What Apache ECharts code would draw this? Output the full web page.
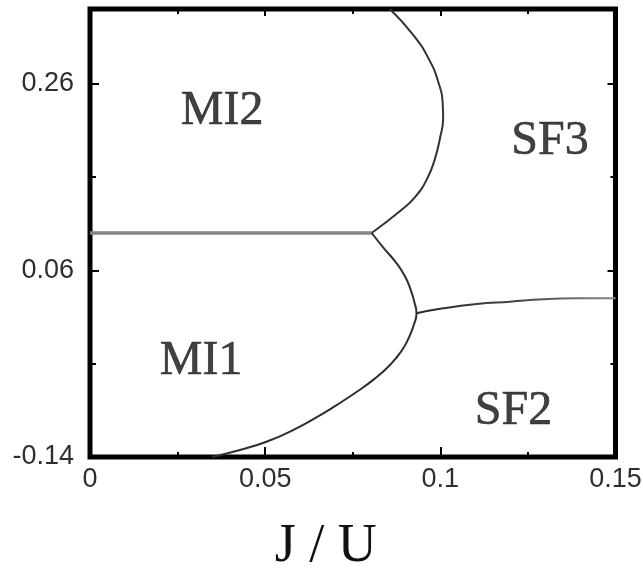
<!DOCTYPE html>
<html>
<head>
<meta charset="utf-8">
<script src="https://cdn.jsdelivr.net/npm/echarts@6/dist/echarts.min.js"></script>
<style>
  html, body { margin: 0; padding: 0; background: #fff; }
  #chart { width: 643px; height: 569px; }
</style>
</head>
<body>
<div id="chart"></div>
<script>
// Phase diagram: boundaries between Mott-insulator (MI) and superfluid (SF) phases vs J/U

// axis ranges and ticks
const xMin = 0, xMax = 0.15, xInterval = 0.05;
const yMin = -0.14, yMax = 0.34;
const yMajorTicks = [-0.14, 0.06, 0.26];
const yMinorTicks = [-0.04, 0.16];

// MI1 / MI2 boundary (flat line)
const mi1mi2X = [0, 0.0804];
const mi1mi2Y = [0.10, 0.10];

// MI2 / SF3 boundary (from the top edge down to the triple point)
const mi2sf3X = [0.0856, 0.0923, 0.0966, 0.0994, 0.1007, 0.1008, 0.0999, 0.0985, 0.0963, 0.0929, 0.0887, 0.0804];
const mi2sf3Y = [0.34, 0.3121, 0.2872, 0.2621, 0.2371, 0.2229, 0.2015, 0.18, 0.1586, 0.1390, 0.1240, 0.10];

// MI1 / SF boundary (from the triple point down to the bottom edge)
const mi1sfX = [0.0804, 0.0839, 0.0873, 0.0899, 0.0916, 0.0926, 0.0932, 0.0924, 0.0913, 0.0896, 0.0873, 0.0847, 0.0813, 0.0770, 0.0722, 0.0666, 0.0571, 0.0504, 0.0428, 0.0348];
const mi1sfY = [0.10, 0.0836, 0.0686, 0.0536, 0.0386, 0.0257, 0.014, 0.0011, -0.0096, -0.0225, -0.0343, -0.0450, -0.0560, -0.0680, -0.0800, -0.0932, -0.1129, -0.1236, -0.1325, -0.14];

// SF2 / SF3 boundary
const sf2sf3X = [0.0932, 0.1008, 0.1104, 0.1199, 0.1294, 0.1389, 0.15];
const sf2sf3Y = [0.014, 0.0193, 0.0239, 0.0264, 0.029, 0.030, 0.030];

// phase labels
const phaseNames = ['MI2', 'SF3', 'MI1', 'SF2'];
const phaseX = [0.0377, 0.1313, 0.0317, 0.1209];
const phaseY = [0.2307, 0.1986, -0.0379, -0.0907];

const pairs = (xs, ys) => xs.map((x, i) => [x, ys[i]]);

const tickFont = { fontFamily: '"Liberation Sans", Arial, sans-serif', fontSize: 27, color: '#2e2e2e' };
const serif = '"Liberation Serif", "Times New Roman", serif';
const tickLine = { color: '#000', width: 2 };

function xAxisDef(position, majorLen, showLabel) {
  return {
    type: 'value', position: position, min: xMin, max: xMax, interval: xInterval,
    axisLine: { show: false, onZero: false },
    splitLine: { show: false },
    axisTick: { show: true, inside: true, length: majorLen, lineStyle: tickLine },
    minorTick: { show: true, splitNumber: 2, length: 5, lineStyle: tickLine },
    axisLabel: showLabel ? Object.assign({ show: true, margin: 9 }, tickFont) : { show: false }
  };
}

function yAxisDef(position, ticks, len, showLabel) {
  return {
    type: 'value', position: position, min: yMin, max: yMax,
    axisLine: { show: false, onZero: false },
    splitLine: { show: false },
    axisTick: { show: true, inside: true, length: len, customValues: ticks, lineStyle: tickLine },
    axisLabel: showLabel ? Object.assign({ show: true, margin: 16, customValues: ticks,
      formatter: v => v.toFixed(2) }, tickFont) : { show: false }
  };
}

const boundaryLine = (name, data, color, width) => ({
  name: name, type: 'line', data: data, smooth: 0.5, symbol: 'none',
  xAxisIndex: 0, yAxisIndex: 0,
  lineStyle: { color: color, width: width }
});

const chart = echarts.init(document.getElementById('chart'), null, { renderer: 'canvas' });
const bottomX = xAxisDef('bottom', 10, true);
bottomX.name = 'J / U';
bottomX.nameLocation = 'middle';
bottomX.nameGap = 63;
bottomX.nameTextStyle = { fontFamily: serif, fontSize: 54, color: '#111', padding: [0, 54, 0, 0] };

chart.setOption({
  animation: false,
  backgroundColor: '#fff',
  grid: {
    left: 90, right: 27.5, top: 9, bottom: 112,
    outerBoundsMode: 'none', containLabel: false,
    show: true, borderColor: '#000', borderWidth: 5, backgroundColor: 'transparent'
  },
  xAxis: [bottomX, xAxisDef('top', 7, false)],
  yAxis: [
    yAxisDef('left', yMajorTicks, 9, true),
    yAxisDef('left', yMinorTicks, 6, false),
    yAxisDef('right', yMajorTicks, 8, false),
    yAxisDef('right', yMinorTicks, 5, false)
  ],
  series: [
    boundaryLine('MI1-MI2', pairs(mi1mi2X, mi1mi2Y), '#858585', 3.5),
    boundaryLine('MI2-SF3', pairs(mi2sf3X, mi2sf3Y), '#333', 2),
    boundaryLine('MI1-SF', pairs(mi1sfX, mi1sfY), '#2e2e2e', 2),
    boundaryLine('SF2-SF3', pairs(sf2sf3X, sf2sf3Y),
      new echarts.graphic.LinearGradient(0, 0, 1, 0, [
        { offset: 0, color: '#2a2a2a' }, { offset: 0.5, color: '#444' }, { offset: 1, color: '#8a8a8a' }
      ]), 2),
    {
      name: 'phases', type: 'scatter', symbolSize: 0, silent: true,
      data: phaseNames.map((n, i) => ({ name: n, value: [phaseX[i], phaseY[i]] })),
      label: {
        show: true, position: 'inside', formatter: p => p.name,
        fontFamily: serif, fontSize: 48, color: '#111',
        textBorderColor: '#111', textBorderWidth: 0.6
      }
    }
  ]
});
</script>
</body>
</html>
